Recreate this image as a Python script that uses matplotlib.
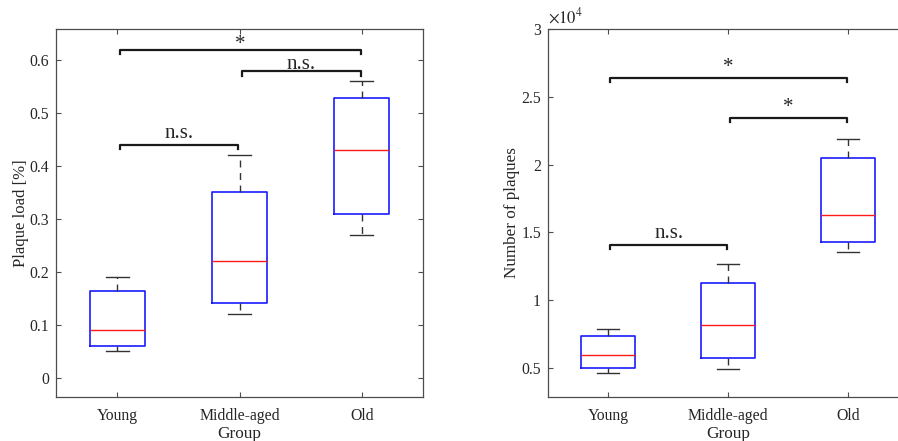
import numpy as np
import matplotlib
matplotlib.use('Agg')
import matplotlib.pyplot as plt

plt.rcParams['font.family'] = ['Liberation Serif', 'DejaVu Serif']
plt.rcParams['mathtext.fontset'] = 'stix'

groups = ['Young', 'Middle-aged', 'Old']

# box stats: low whisker, q1, median, q3, high whisker
load_low = [0.05, 0.12, 0.27]
load_q1 = [0.06, 0.141, 0.309]
load_med = [0.09, 0.22, 0.43]
load_q3 = [0.164, 0.351, 0.527]
load_high = [0.19, 0.42, 0.56]

count_low = [4600, 4900, 13580]
count_q1 = [4970, 5760, 14260]
count_med = [5930, 8170, 16300]
count_q3 = [7330, 11240, 20460]
count_high = [7850, 12670, 21910]

# significance brackets: (from group, to group, height, label)
load_brackets = [(1, 2, 0.44, 'n.s.'), (2, 3, 0.578, 'n.s.'), (1, 3, 0.618, '*')]
count_brackets = [(1, 2, 14070, 'n.s.'), (2, 3, 23440, '*'), (1, 3, 26360, '*')]

# label offset above each bracket, in points
load_gaps = [1.5, -1.5, -2.5]
count_gaps = [1.5, 0.5, 1.0]

spine_col = '#4d4d4d'


def make_stats(low, q1, med, q3, high):
    stats = []
    for i in range(len(low)):
        stats.append({'whislo': low[i], 'q1': q1[i], 'med': med[i],
                      'q3': q3[i], 'whishi': high[i], 'fliers': []})
    return stats


def draw_box(ax, stats):
    ax.bxp(stats, positions=[1, 2, 3], widths=0.45, showfliers=False,
           capwidths=0.19,
           boxprops=dict(color='#1a1aff', linewidth=1.2),
           medianprops=dict(color='#ff1a1a', linewidth=1.0),
           whiskerprops=dict(color='#333333', linewidth=1.0, linestyle=(0, (5, 4))),
           capprops=dict(color='#333333', linewidth=1.0))


def draw_brackets(ax, brackets, gaps, drop):
    for (a, b, h, lab), g in zip(brackets, gaps):
        x0 = a + 0.02
        x1 = b - 0.01
        ax.plot([x0, x0, x1, x1], [h - drop, h, h, h - drop], color='#1a1a1a',
                linewidth=1.6, solid_joinstyle='round')
        ax.annotate(lab, ((x0 + x1) / 2, h), xytext=(0, g), textcoords='offset points',
                    ha='center', va='bottom', fontsize=15, color='#262626')


def style_axes(ax):
    ax.set_xlim(0.5, 3.5)
    ax.set_xticks([1, 2, 3])
    ax.set_xticklabels(groups)
    ax.tick_params(direction='in', length=3.5, width=0.8, top=True, right=True,
                   labelsize=11.3, colors=spine_col, labelcolor='#262626')
    ax.tick_params(axis='x', pad=8)
    ax.tick_params(axis='y', pad=5)
    for s in ax.spines.values():
        s.set_color(spine_col)
        s.set_linewidth(0.9)
    ax.set_xlabel('Group', fontsize=12.4, color='#262626', labelpad=1.5)


fig = plt.figure(figsize=(8.98, 4.41), dpi=100)

ax1 = fig.add_axes([56 / 898, 1 - 397 / 441, 367 / 898, 368 / 441])
draw_box(ax1, make_stats(load_low, load_q1, load_med, load_q3, load_high))
draw_brackets(ax1, load_brackets, load_gaps, 0.008)
style_axes(ax1)
ax1.set_ylim(-0.036, 0.658)
ax1.set_yticks([0, 0.1, 0.2, 0.3, 0.4, 0.5, 0.6])
ax1.set_yticklabels(['0', '0.1', '0.2', '0.3', '0.4', '0.5', '0.6'])
ax1.set_ylabel('Plaque load [%]', fontsize=12.1, color='#262626', labelpad=0.5)

ax2 = fig.add_axes([548 / 898, 1 - 397 / 441, 360 / 898, 368 / 441])
draw_box(ax2, make_stats(count_low, count_q1, count_med, count_q3, count_high))
draw_brackets(ax2, count_brackets, count_gaps, 300)
style_axes(ax2)
ax2.set_ylim(2860, 30000)
ax2.set_yticks([5000, 10000, 15000, 20000, 25000, 30000])
ax2.set_yticklabels(['0.5', '1', '1.5', '2', '2.5', '3'])
ax2.set_ylabel('Number of plaques', fontsize=12.3, color='#262626', labelpad=1)
ax2.text(0.0, 1.005, r'$\times10^{4}$', transform=ax2.transAxes, ha='left',
         va='bottom', fontsize=12, color='#262626')

fig.savefig('out.png', dpi=100)
